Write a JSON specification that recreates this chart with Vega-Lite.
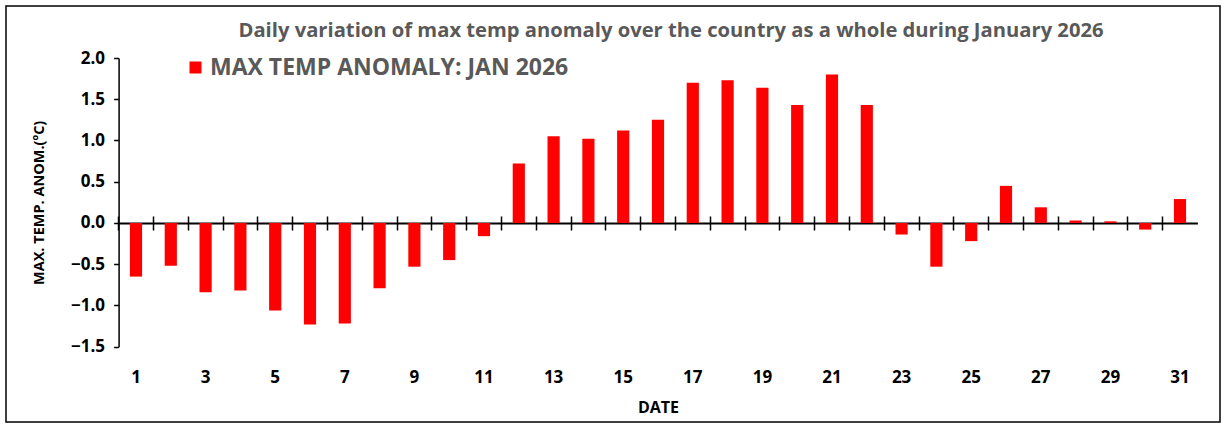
{
  "$schema": "https://vega.github.io/schema/vega-lite/v6.json",
  "width": 1214,
  "height": 416,
  "autosize": "none",
  "padding": {"left": 6, "top": 6, "right": 5, "bottom": 3},
  "background": "white",
  "config": {"view": {"stroke": "#000000", "strokeWidth": 1.5}, "font": "Open Sans"},
  "title": {
    "text": "Daily variation of max temp anomaly over the country as a whole during January 2026",
    "font": "Open Sans", "fontSize": 20.2, "fontWeight": "bold", "color": "#595959",
    "anchor": "middle", "offset": -35, "dx": 58
  },
  "data": {"values": [
    {"date": 1, "anomaly": -0.65}, {"date": 2, "anomaly": -0.52}, {"date": 3, "anomaly": -0.84},
    {"date": 4, "anomaly": -0.82}, {"date": 5, "anomaly": -1.06}, {"date": 6, "anomaly": -1.23},
    {"date": 7, "anomaly": -1.22}, {"date": 8, "anomaly": -0.79}, {"date": 9, "anomaly": -0.53},
    {"date": 10, "anomaly": -0.45}, {"date": 11, "anomaly": -0.16}, {"date": 12, "anomaly": 0.72},
    {"date": 13, "anomaly": 1.05}, {"date": 14, "anomaly": 1.02}, {"date": 15, "anomaly": 1.12},
    {"date": 16, "anomaly": 1.25}, {"date": 17, "anomaly": 1.70}, {"date": 18, "anomaly": 1.73},
    {"date": 19, "anomaly": 1.64}, {"date": 20, "anomaly": 1.43}, {"date": 21, "anomaly": 1.80},
    {"date": 22, "anomaly": 1.43}, {"date": 23, "anomaly": -0.14}, {"date": 24, "anomaly": -0.53},
    {"date": 25, "anomaly": -0.22}, {"date": 26, "anomaly": 0.45}, {"date": 27, "anomaly": 0.19},
    {"date": 28, "anomaly": 0.03}, {"date": 29, "anomaly": 0.02}, {"date": 30, "anomaly": -0.08},
    {"date": 31, "anomaly": 0.29}
  ]},
  "layer": [
    {
      "mark": {"type": "bar", "width": {"band": 0.35}},
      "encoding": {
        "x": {
          "field": "date", "type": "ordinal",
          "scale": {"type": "band", "range": [112.6, 1191.4], "paddingInner": 0, "paddingOuter": 0},
          "axis": {
            "orient": "bottom", "offset": -199, "domain": true, "domainColor": "#000000", "domainWidth": 2,
            "ticks": true, "tickColor": "#000000", "tickWidth": 1.5, "tickSize": 7, "bandPosition": 0,
            "labels": false, "title": null, "grid": false
          }
        },
        "y": {
          "field": "anomaly", "type": "quantitative",
          "scale": {"domain": [-1.5, 2], "range": [340.7, 52], "nice": false, "zero": false},
          "axis": {
            "orient": "left", "offset": -112.6, "values": [-1.5, -1, -0.5, 0, 0.5, 1, 1.5, 2], "format": ".1f",
            "grid": false, "domain": true, "domainColor": "#000000", "domainWidth": 1.5,
            "ticks": true, "tickColor": "#000000", "tickWidth": 1.5, "tickSize": 5,
            "labelFont": "Open Sans", "labelFontSize": 17, "labelFontWeight": "bold", "labelColor": "#000000", "labelPadding": 9,
            "title": "MAX. TEMP. ANOM.(ºC)", "titleFont": "Open Sans", "titleFontSize": 14.5, "titleFontWeight": "bold",
            "titleColor": "#000000", "titlePadding": 24
          }
        },
        "color": {
          "datum": "MAX TEMP ANOMALY: JAN 2026", "type": "nominal",
          "scale": {"range": ["#FF0000"]},
          "legend": {
            "orient": "none", "legendX": 178, "legendY": 50, "title": null,
            "symbolType": "square", "symbolSize": 144, "symbolStrokeWidth": 0, "symbolOpacity": 1,
            "labelFont": "Open Sans", "labelFontSize": 23, "labelFontWeight": "bold", "labelColor": "#595959",
            "labelLimit": 600, "labelOffset": 3
          }
        }
      }
    },
    {
      "mark": {"type": "point", "opacity": 0},
      "encoding": {
        "x": {
          "field": "date", "type": "ordinal",
          "axis": {
            "orient": "bottom", "offset": -206, "domain": false,
            "ticks": true, "tickColor": "#000000", "tickWidth": 1.5, "tickSize": 7, "bandPosition": 0,
            "labels": false, "title": null, "grid": false
          }
        }
      }
    },
    {
      "mark": {"type": "point", "opacity": 0},
      "encoding": {
        "x": {
          "field": "date", "type": "ordinal",
          "axis": {
            "orient": "bottom", "offset": -75, "domain": false, "ticks": false, "tickSize": 0,
            "values": [1, 3, 5, 7, 9, 11, 13, 15, 17, 19, 21, 23, 25, 27, 29, 31],
            "labelAngle": 0, "labelFont": "Open Sans", "labelFontSize": 17, "labelFontWeight": "bold",
            "labelColor": "#000000", "labelPadding": 22,
            "title": "DATE", "titleFont": "Open Sans", "titleFontSize": 16, "titleFontWeight": "bold",
            "titleColor": "#000000", "titlePadding": 14, "grid": false
          }
        }
      }
    }
  ],
  "resolve": {"axis": {"x": "independent"}}
}
